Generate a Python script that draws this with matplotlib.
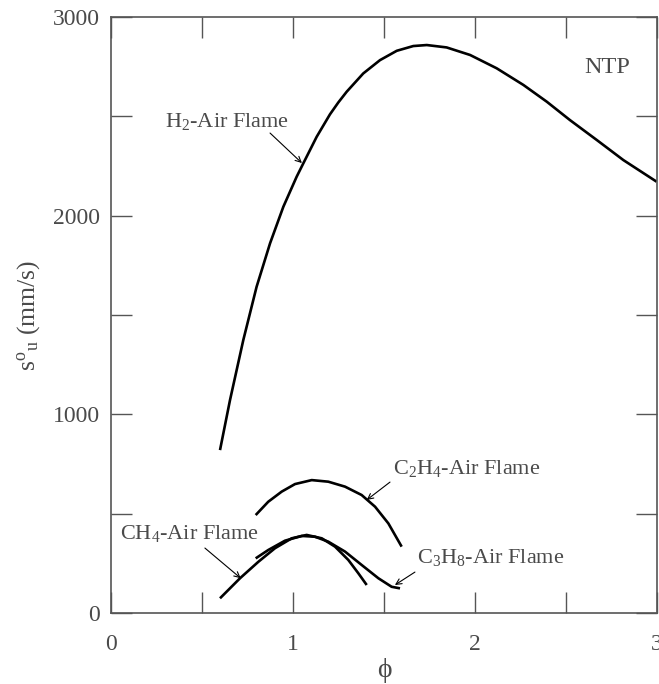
import matplotlib
matplotlib.use("Agg")
import matplotlib.pyplot as plt
from matplotlib.ticker import MultipleLocator

plt.rcParams["font.family"] = ["Liberation Serif", "DejaVu Serif"]
plt.rcParams["mathtext.fontset"] = "custom"
plt.rcParams["mathtext.rm"] = "Liberation Serif"
plt.rcParams["mathtext.it"] = "Liberation Serif:italic"

# Laminar burning velocity vs equivalence ratio
phi_h2 = [0.599, 0.654, 0.727, 0.80, 0.874, 0.947, 1.02, 1.057, 1.13, 1.203, 1.249,
          1.295, 1.386, 1.478, 1.570, 1.661, 1.735, 1.844, 1.973, 2.119, 2.266,
          2.394, 2.522, 2.669, 2.815, 2.998]
su_h2 = [820, 1072, 1374, 1642, 1861, 2045, 2196, 2264, 2397, 2510, 2570,
         2624, 2716, 2783, 2830, 2854, 2859, 2847, 2809, 2742, 2658,
         2574, 2481, 2381, 2280, 2171]

phi_c2h4 = [0.795, 0.864, 0.938, 1.011, 1.103, 1.194, 1.286, 1.377, 1.451, 1.524, 1.597]
su_c2h4 = [493, 560, 611, 649, 669, 661, 636, 594, 535, 451, 334]

phi_ch4 = [0.599, 0.709, 0.81, 0.901, 0.993, 1.075, 1.158, 1.231, 1.304, 1.359, 1.405]
su_ch4 = [74, 175, 258, 326, 376, 393, 376, 334, 267, 200, 141]

phi_c3h8 = [0.795, 0.864, 0.956, 1.048, 1.121, 1.194, 1.286, 1.377, 1.469, 1.542, 1.588]
su_c3h8 = [275, 317, 364, 388, 384, 359, 309, 242, 175, 132, 124]

text_color = "#4a4a4a"
spine_color = "#555555"

fig = plt.figure(figsize=(6.59, 6.84), dpi=100)
ax = fig.add_axes([0.1684, 0.1038, 0.8286, 0.8713])

for xs, ys in [(phi_h2, su_h2), (phi_c2h4, su_c2h4), (phi_ch4, su_ch4), (phi_c3h8, su_c3h8)]:
    ax.plot(xs, ys, color="black", lw=1.9, solid_capstyle="butt", solid_joinstyle="round")

ax.set_xlim(0, 3)
ax.set_ylim(0, 3000)
ax.xaxis.set_major_locator(MultipleLocator(1))
ax.xaxis.set_minor_locator(MultipleLocator(0.5))
ax.yaxis.set_major_locator(MultipleLocator(1000))
ax.yaxis.set_minor_locator(MultipleLocator(500))
ax.tick_params(which="both", direction="in", top=True, right=True,
               length=15, width=1.0, color=spine_color)
ax.tick_params(axis="x", which="major", labelsize=17, pad=15, labelcolor=text_color)
ax.tick_params(axis="y", which="major", labelsize=17, pad=8, labelcolor=text_color)
for s in ax.spines.values():
    s.set_color(spine_color)
    s.set_linewidth(1.2)

ax.set_xlabel("\u03d5", fontsize=20, color=text_color, labelpad=2,
              family=["Liberation Serif", "DejaVu Serif"])
ax.set_ylabel(r"s$^\mathrm{o}$$_\mathrm{u}$ (mm/s)", fontsize=18.5, color=text_color, labelpad=8)

label_kw = dict(fontsize=16, color=text_color, va="baseline", ha="left")
arrow_kw = dict(arrowstyle="->", color="black", lw=0.8, shrinkA=0, shrinkB=0)

ax.text(0.297, 2446, r"H$_\mathrm{2}$-Air Flame", **label_kw)
ax.annotate("", xy=(1.049, 2265), xytext=(0.874, 2416), arrowprops=arrow_kw)

ax.text(0.049, 372, r"CH$_\mathrm{4}$-Air Flame", **label_kw)
ax.annotate("", xy=(0.713, 175), xytext=(0.516, 327), arrowprops=arrow_kw)

ax.text(1.549, 700, r"C$_\mathrm{2}$H$_\mathrm{4}$-Air Flame", **label_kw)
ax.annotate("", xy=(1.405, 569), xytext=(1.533, 659), arrowprops=arrow_kw)

ax.text(1.681, 252, r"C$_\mathrm{3}$H$_\mathrm{8}$-Air Flame", **label_kw)
ax.annotate("", xy=(1.560, 141), xytext=(1.670, 206), arrowprops=arrow_kw)

ax.text(2.599, 2718, "NTP", fontsize=17.5, color=text_color, va="baseline", ha="left")

fig.savefig("out.png", dpi=100)
